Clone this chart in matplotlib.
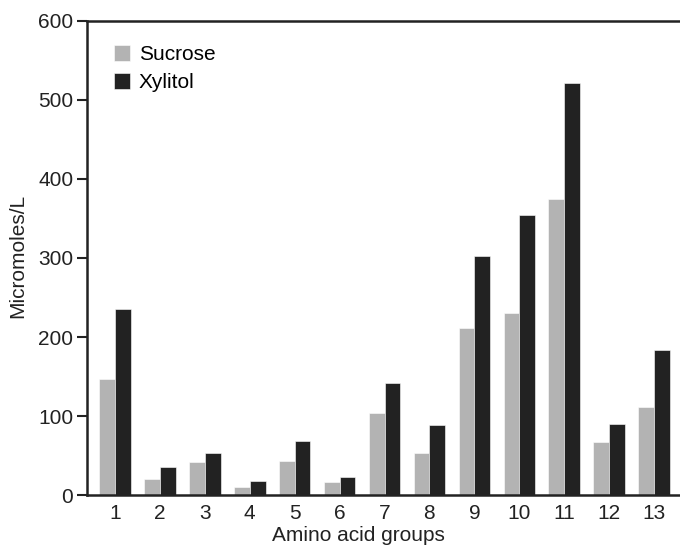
import numpy as np
import matplotlib
matplotlib.use('Agg')
import matplotlib.pyplot as plt

plt.rcParams['font.family'] = ['Liberation Sans', 'DejaVu Sans']

groups = list(range(1, 14))
sucrose = [147, 21, 42, 11, 43, 17, 104, 54, 212, 230, 375, 67, 111]
xylitol = [235, 36, 53, 18, 69, 23, 142, 89, 303, 354, 521, 90, 184]

fs = 15

fig = plt.figure(figsize=(6.8, 5.5), dpi=100)
ax = fig.add_axes([0.128, 0.0995, 0.872, 0.863])

x = np.array(groups)
w = 0.35
ax.bar(x - w/2, sucrose, w, color='#b3b3b3', edgecolor='white', linewidth=0.4, label='Sucrose')
ax.bar(x + w/2, xylitol, w, color='#222222', edgecolor='white', linewidth=0.4, label='Xylitol')

ax.set_xlim(0.376, 13.58)
ax.set_ylim(0, 600)
ax.set_xticks(groups)
ax.set_yticks(range(0, 601, 100))

for s in ['left', 'bottom', 'top']:
    ax.spines[s].set_linewidth(1.8)
    ax.spines[s].set_color('#222222')
ax.spines['right'].set_visible(False)

ax.tick_params(axis='y', direction='out', length=7, width=1.5, pad=3, labelsize=fs, colors='#222222')
ax.tick_params(axis='x', length=0, pad=6, labelsize=fs, colors='#222222')

ax.set_ylabel('Micromoles/L', fontsize=fs, color='#222222')
ax.yaxis.set_label_coords(-0.101, 0.505)
ax.set_xlabel('Amino acid groups', fontsize=fs, color='#222222')
ax.xaxis.set_label_coords(0.457, -0.064)

ax.legend(loc='upper left', bbox_to_anchor=(0.031, 0.966), frameon=False,
          fontsize=fs, handlelength=0.8, handleheight=0.8, handletextpad=0.4,
          labelspacing=0.4, borderaxespad=0)

fig.savefig('out.png', dpi=100)
